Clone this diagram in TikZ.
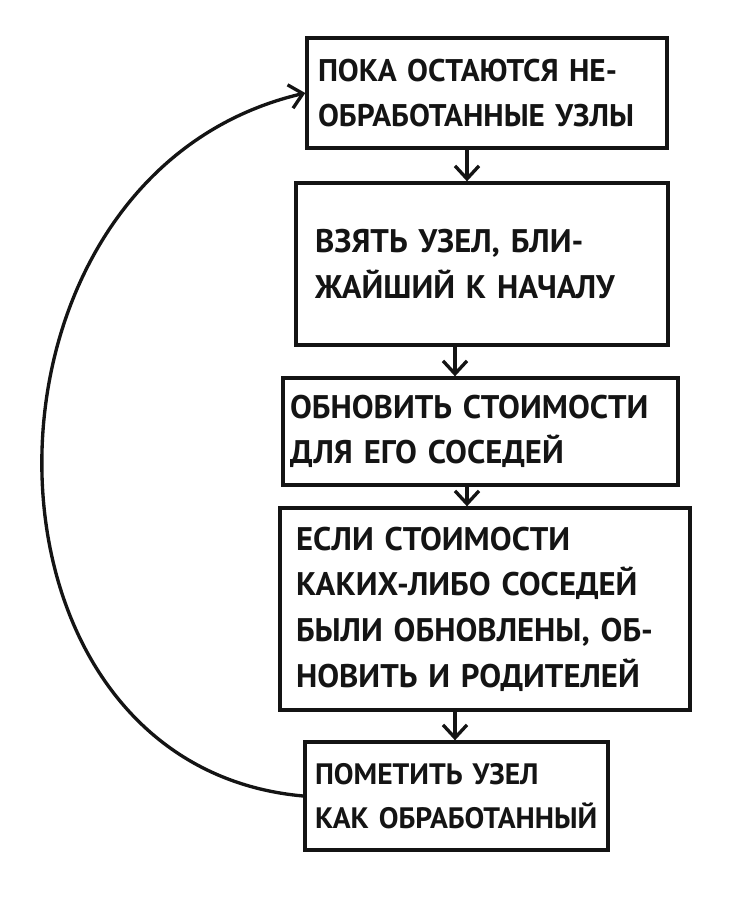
\documentclass[tikz,border=0pt]{standalone}
\usepackage{fontspec}
\setmainfont{PT Sans}
\usetikzlibrary{arrows.meta,calc}
\definecolor{tushCherny}{HTML}{141414}

\begin{document}
\begin{tikzpicture}[
  blok/.style={draw=tushCherny,line width=1.9pt,align=left,inner ysep=0pt,
    text=tushCherny,font=\bfseries\fontsize{18.6}{26}\selectfont},
  strelka/.style={draw=tushCherny,line width=1.9pt,
    -{Straight Barb[length=2.6mm,width=4.8mm]}}]
\useasboundingbox (0,0) rectangle (15.04,-18.2);
% bloki
\node[blok,inner xsep=0.22cm,text width=6.76cm,minimum height=2.2cm,
  font=\bfseries\fontsize{17.8}{26}\selectfont] (b1) at (9.74,-1.86)
  {ПОКА ОСТАЮТСЯ НЕ-\\ОБРАБОТАННЫЕ УЗЛЫ};
\node[blok,inner xsep=0.38cm,text width=6.68cm,minimum height=3.24cm] (b2) at (9.64,-5.28)
  {ВЗЯТЬ УЗЕЛ, БЛИ-\\ЖАЙШИЙ К НАЧАЛУ};
\node[blok,inner xsep=0.14cm,text width=7.62cm,minimum height=2.14cm] (b3) at (9.61,-8.63)
  {ОБНОВИТЬ СТОИМОСТИ\\ДЛЯ ЕГО СОСЕДЕЙ};
\node[blok,inner xsep=0.32cm,text width=7.56cm,minimum height=4.04cm] (b4) at (9.7,-12.18)
  {ЕСЛИ СТОИМОСТИ\\КАКИХ-ЛИБО СОСЕДЕЙ\\БЫЛИ ОБНОВЛЕНЫ, ОБ-\\НОВИТЬ И РОДИТЕЛЕЙ};
\node[blok,inner xsep=0.2cm,text width=5.66cm,minimum height=2.16cm,
  font=\bfseries\fontsize{16.8}{25}\selectfont] (b5) at (9.13,-15.92)
  {ПОМЕТИТЬ УЗЕЛ\\КАК ОБРАБОТАННЫЙ};
% strelki
\draw[strelka] ([xshift=-4mm]b1.south) -- ([xshift=-4mm]b1.south |- b2.north);
\draw[strelka] ([xshift=-5.4mm]b2.south) -- ([xshift=-5.4mm]b2.south |- b3.north);
\draw[strelka] ([xshift=-2.7mm]b3.south) -- ([xshift=-2.7mm]b3.south |- b4.north);
\draw[strelka] ([xshift=-6mm]b4.south) -- ([xshift=-6mm]b4.south |- b5.north);
\draw[strelka] (b5.west) .. controls (-0.9,-15.3) and (-0.9,-3.5) .. (b1.west);
\end{tikzpicture}
\end{document}
